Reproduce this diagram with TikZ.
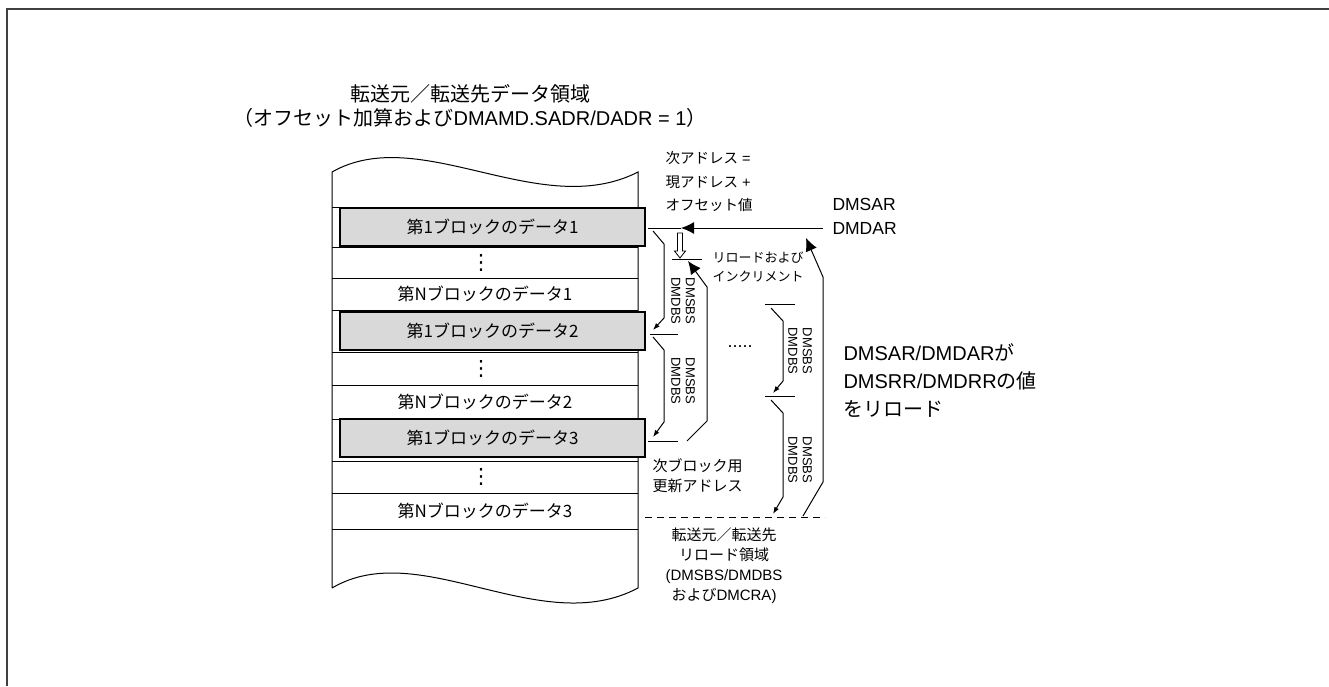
\documentclass[tikz,border=0pt]{standalone}
\usepackage{fontspec}
\setmainfont{Liberation Sans}
\newfontfamily\jpfont{Noto Sans CJK JP}
\newfontfamily\symfont{DejaVu Sans}
\newcommand{\ja}[1]{{\jpfont #1}}
\usepackage{xcolor}
\usetikzlibrary{positioning,arrows.meta}
\definecolor{blockgray}{RGB}{217,217,217}
\definecolor{framegray}{RGB}{64,64,64}

\begin{document}
\begin{tikzpicture}[
x=1pt,y=-1pt,
line width=1pt,
dblock/.style={
rectangle,draw,line width=2.6pt,fill=blockgray,
minimum width=305pt,minimum height=38pt,inner sep=0pt,
font=\jpfont\fontsize{17}{20}\selectfont
},
cell/.style={inner sep=0pt,font=\jpfont\fontsize{17}{20}\selectfont},
vdot/.style={inner sep=0pt,font=\symfont\fontsize{21}{21}\selectfont},
note/.style={inner sep=0pt,align=left,anchor=north west},
sizelabel/.style={inner sep=0pt,rotate=-90,align=center,font=\fontsize{13}{14.5}\selectfont},
brace/.style={-{Latex[length=7pt,width=5pt]}},
bigarrow/.style={-{Latex[length=13pt,width=12pt]}}
]
\useasboundingbox (0,0) rectangle (1329,686);
\draw[framegray,line width=1.8pt] (7,686) -- (7,9) -- (1329,9);

\node[inner sep=0pt,align=center,anchor=north,font=\fontsize{20}{24}\selectfont] (title) at (470,84)
{\ja{転送元／転送先データ領域}\\\ja{（オフセット加算および}DMAMD.SADR/DADR = 1\ja{）}};

\draw (332,588) -- (332,172) .. controls (420,122) and (540,222) .. (638,172)
-- (638,588) .. controls (540,640) and (420,536) .. (332,588);
\foreach \y in {207,247,278,310,352,385,419,461,493,529}
\draw (332,\y) -- (638,\y);

\node[dblock] (blk1) at (492.5,227) {第1ブロックのデータ1};
\node[vdot] (dots1) at (481,262.5) {⋮};
\node[cell] (last1) at (485,294) {第Nブロックのデータ1};
\node[dblock] (blk2) at (492.5,331) {第1ブロックのデータ2};
\node[vdot] (dots2) at (481,368.5) {⋮};
\node[cell] (last2) at (485,402) {第Nブロックのデータ2};
\node[dblock] (blk3) at (492.5,438) {第1ブロックのデータ3};
\node[vdot] (dots3) at (481,477) {⋮};
\node[cell] (last3) at (485,511) {第Nブロックのデータ3};

\coordinate (m1w) at (648,228);
\coordinate (m1e) at (681,228);
\coordinate (m1bw) at (672,259);
\coordinate (m1be) at (702,259);
\coordinate (m2w) at (650,334);
\coordinate (m2e) at (678,334);
\coordinate (m3w) at (648,441);
\coordinate (m3e) at (678,441);
\coordinate (r1w) at (765,304);
\coordinate (r1e) at (795,304);
\coordinate (r2w) at (765,396);
\coordinate (r2e) at (795,396);
\coordinate (endw) at (645,517);
\coordinate (ende) at (825,517);
\coordinate (feed) at (823,228);

\draw (m1w) -- (m1e);
\draw (m1bw) -- (m1be);
\draw (m2w) -- (m2e);
\draw (m3w) -- (m3e);
\draw (r1w) -- (r1e);
\draw (r2w) -- (r2e);
\draw[dashed,dash pattern=on 7pt off 5pt] (endw) -- (ende);

\draw[fill=white,line width=0.8pt] (677.5,233) -- (682.5,233) -- (682.5,251) -- (685.5,251)
-- (680,258) -- (674.5,251) -- (677.5,251) -- cycle;

\coordinate (p1s) at (653,231);
\coordinate (p1t) at (653,330);
\coordinate (p2s) at (653,337);
\coordinate (p2t) at (653,437);
\coordinate (p3s) at (687,441);
\coordinate (p3t) at (688,261);
\coordinate (p4s) at (771,308);
\coordinate (p4t) at (773,393);
\coordinate (p5s) at (771,400);
\coordinate (p5t) at (773,514);
\coordinate (p6s) at (803,516);
\coordinate (p6t) at (806,238);

\draw[brace] (p1s) -- (664,244) -- (664,318) -- (p1t);
\draw[brace] (p2s) -- (664,350) -- (664,422) -- (p2t);
\draw[bigarrow] (p3s) -- (707,421) -- (707,287) -- (p3t);
\draw[brace] (p4s) -- (783,321) -- (783,381) -- (p4t);
\draw[brace] (p5s) -- (783,413) -- (783,497) -- (p5t);
\draw[bigarrow] (p6s) -- (823,482) -- (823,277) -- (p6t);
\draw[bigarrow] (feed) -- (m1e);

\node[sizelabel] (size1) at (683,301) {DMSBS\\DMDBS};
\node[sizelabel] (size2) at (683,381) {DMSBS\\DMDBS};
\node[sizelabel] (size3) at (800,351) {DMSBS\\DMDBS};
\node[sizelabel] (size4) at (800,460) {DMSBS\\DMDBS};
\node[inner sep=0pt,font=\fontsize{18}{20}\selectfont] (more) at (740,347) {.....};

\node[note,font=\fontsize{14.5}{23.5}\selectfont] (nextaddr) at (665,151)
{\ja{次アドレス} =\\\ja{現アドレス} +\\\ja{オフセット値}};
\node[note,font=\fontsize{17.5}{24}\selectfont] (dmsar) at (832,198) {DMSAR\\DMDAR};
\node[note,font=\jpfont\fontsize{13}{19}\selectfont] (reload) at (712,251.5) {リロードおよび\\インクリメント};
\node[note,font=\jpfont\fontsize{15}{20}\selectfont] (nextblk) at (652,458.5) {次ブロック用\\更新アドレス};
\node[inner sep=0pt,align=center,anchor=north,font=\fontsize{15}{20}\selectfont] (area) at (724,527.5)
{\ja{転送元／転送先}\\\ja{リロード領域}\\(DMSBS/DMDBS\\\ja{および}DMCRA)};
\node[note,font=\fontsize{20}{28}\selectfont] (reloadtxt) at (843,343)
{DMSAR/DMDAR\ja{が}\\DMSRR/DMDRR\ja{の値}\\\ja{をリロード}};

\end{tikzpicture}
\end{document}
